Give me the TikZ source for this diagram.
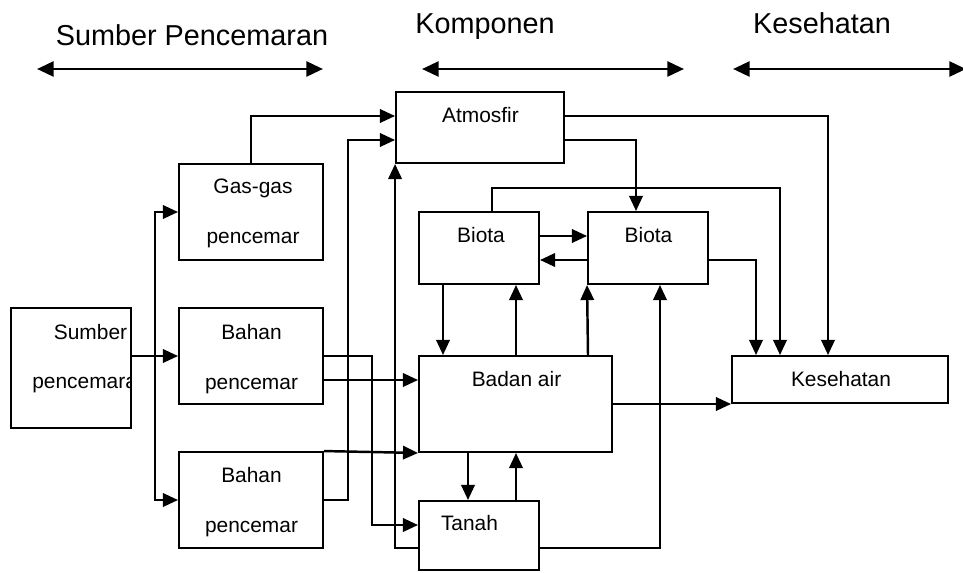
\documentclass[tikz,border=0pt]{standalone}
\usepackage{fontspec}
\setmainfont{Liberation Sans}
\usetikzlibrary{arrows.meta}

\tikzset{
    box/.style={draw, line width=1.1pt, inner sep=0pt},
    txt/.style={anchor=base, inner sep=0pt, font=\fontsize{11.9}{14}\selectfont},
    head/.style={anchor=base, inner sep=0pt, font=\fontsize{16.4}{19}\selectfont},
    link/.style={line width=1.4pt, -{Triangle[length=8.6pt,width=7.6pt]}},
    span/.style={line width=1.6pt, {Triangle[length=9.5pt,width=8.5pt]}-{Triangle[length=9.5pt,width=8.5pt]}}
}

\begin{document}
\begin{tikzpicture}[x=0.02cm, y=-0.02cm]
    \useasboundingbox (0,0) rectangle (963,572);

    % Headings
    \node[head] (hsrc) at (192,45) {Sumber Pencemaran};
    \node[head] (hkom) at (485,33) {Komponen};
    \node[head] (hkes) at (822,33) {Kesehatan};
    \coordinate (s1) at (37,69);  \coordinate (s2) at (323,69);
    \coordinate (k1) at (422,69); \coordinate (k2) at (684,69);
    \coordinate (h1) at (733,69); \coordinate (h2) at (966,69);
    \draw[span] (s1) -- (s2);
    \draw[span] (k1) -- (k2);
    \draw[span] (h1) -- (h2);

    % Boxes
    \node[box, minimum width=2.4cm, minimum height=2.4cm] (src) at (71,368) {};
    \node[box, minimum width=2.88cm, minimum height=1.92cm] (gas) at (251,212) {};
    \node[box, minimum width=2.88cm, minimum height=1.92cm] (bahanA) at (251,356) {};
    \node[box, minimum width=2.88cm, minimum height=1.92cm] (bahanB) at (251,500) {};
    \node[box, minimum width=3.36cm, minimum height=1.42cm] (atm) at (480,127.5) {};
    \node[box, minimum width=2.4cm, minimum height=1.44cm] (biotaA) at (479,248) {};
    \node[box, minimum width=2.4cm, minimum height=1.44cm] (biotaB) at (648,248) {};
    \node[box, minimum width=3.86cm, minimum height=1.92cm] (air) at (515.5,404) {};
    \node[box, minimum width=2.4cm, minimum height=1.38cm] (tanah) at (479,535.5) {};
    \node[box, minimum width=4.32cm, minimum height=0.94cm] (kes) at (840,379.5) {};

    % Texts in the boxes
    \node[txt] (src-a) at (90.5,339) {Sumber};
    \begin{scope}
        \clip (src.south west) rectangle (src.north east);
        \node[txt, anchor=base west] (src-b) at (32,388) {pencemara};
    \end{scope}
    \node[txt] (gas-a) at (253,193) {Gas-gas};
    \node[txt] (gas-b) at (253,243) {pencemar};
    \node[txt] (bahanA-a) at (251.5,339) {Bahan};
    \node[txt] (bahanA-b) at (251.5,389) {pencemar};
    \node[txt] (bahanB-a) at (251.5,482) {Bahan};
    \node[txt] (bahanB-b) at (251.5,532) {pencemar};
    \node[txt] (atm-a) at (480.5,122) {Atmosfir};
    \node[txt] (biotaA-a) at (481,242) {Biota};
    \node[txt] (biotaB-a) at (648.5,242) {Biota};
    \node[txt] (air-a) at (516.5,386) {Badan air};
    \node[txt] (tanah-a) at (469.5,530) {Tanah};
    \node[txt] (kes-a) at (841,386) {Kesehatan};

    % Sources
    \coordinate (split) at (155,356);
    \draw[link] (src.east |- bahanA.west) -- (bahanA.west);
    \draw[link] (split) |- (gas.west);
    \draw[link] (split) |- (bahanB.west);
    \draw[link] (gas.north) |- (atm.west |- 0,116);
    \draw[link] (bahanB.east) -| (348,140) -- (atm.west |- 0,140);
    \draw[link] (bahanA.east) -| (372,525) -- (tanah.west |- 0,525);
    \draw[link] (bahanA.east |- 0,380) -- (air.west |- 0,380);
    \draw[link] (bahanB.north east) -- (air.south west);

    % Between the components
    \draw[link] (tanah.west |- 0,548) -| (atm.south west);
    \draw[link] (atm.east |- 0,140) -| (636,0 |- biotaB.north);
    \draw[link] (biotaA.east |- 0,236) -- (biotaB.west |- 0,236);
    \draw[link] (biotaB.west |- 0,260) -- (biotaA.east |- 0,260);
    \draw[link] (443,0 |- biotaA.south) -- (443,0 |- air.north);
    \draw[link] (516,0 |- air.north) -- (516,0 |- biotaA.south);
    \draw[link] (588,0 |- air.north) -- (biotaB.south west);
    \draw[link] (tanah.east |- 0,548) -| (660,0 |- biotaB.south);
    \draw[link] (468,0 |- air.south) -- (468,0 |- tanah.north);
    \draw[link] (516,0 |- tanah.north) -- (516,0 |- air.south);

    % To health
    \draw[link] (atm.east |- 0,116) -| (828,0 |- kes.north);
    \draw[link] (492,0 |- biotaA.north) |- (780,188) -- (780,0 |- kes.north);
    \draw[link] (biotaB.east |- 0,260) -| (756,0 |- kes.north);
    \draw[link] (air.east) -- (kes.west |- air.east);
\end{tikzpicture}
\end{document}
